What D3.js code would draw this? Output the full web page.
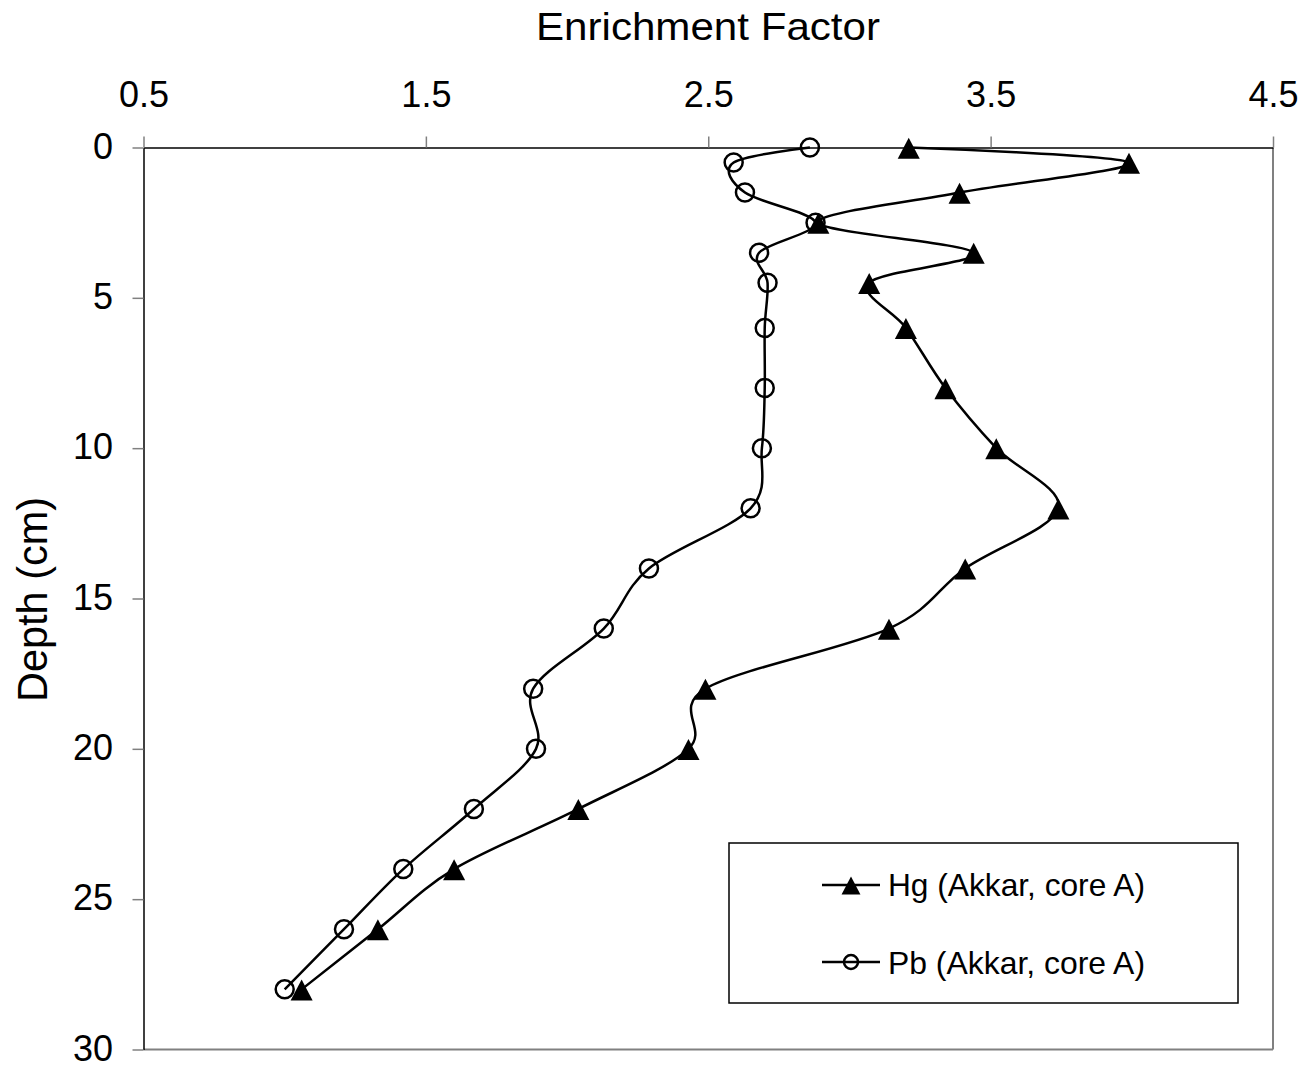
<!DOCTYPE html>
<html>
<head>
<meta charset="utf-8">
<script src="https://cdn.jsdelivr.net/npm/d3@7"></script>
<style>
  html, body { margin: 0; padding: 0; background: #fff; }
  svg { display: block; font-family: "Liberation Sans", Arial, sans-serif; }
</style>
</head>
<body>
<svg id="chart" width="1306" height="1068"></svg>
<script>
// ---- Data ----
const depths = [0, 0.5, 1.5, 2.5, 3.5, 4.5, 6, 8, 10, 12, 14, 16, 18, 20, 22, 24, 26, 28];
const hgValues = [3.21, 3.99, 3.39, 2.89, 3.44, 3.07, 3.20, 3.34, 3.52, 3.74, 3.41, 3.14, 2.49, 2.43, 2.04, 1.60, 1.33, 1.06];
const pbValues = [2.86, 2.59, 2.63, 2.88, 2.68, 2.71, 2.70, 2.70, 2.69, 2.65, 2.29, 2.13, 1.88, 1.89, 1.67, 1.42, 1.21, 1.00];
const xTicks = [0.5, 1.5, 2.5, 3.5, 4.5];
const yTicks = [0, 5, 10, 15, 20, 25, 30];
const seriesNames = ["Hg (Akkar, core A)", "Pb (Akkar, core A)"];
const xTitle = "Enrichment Factor";
const yTitle = "Depth (cm)";

(function () {
// ---- Layout ----
const svg = d3.select("#chart");
const pLeft = 143.5, pRight = 1273, pTop = 147.5, pBottom = 1049.5;

const x = d3.scaleLinear().domain([0.5, 4.5]).range([pLeft, pRight]);
const y = d3.scaleLinear().domain([0, 30]).range([pTop, pBottom]);

// plot border (right & bottom, gray)
svg.append("line").attr("x1", pRight).attr("x2", pRight).attr("y1", pTop).attr("y2", pBottom)
  .attr("stroke", "#808080").attr("stroke-width", 2);
svg.append("line").attr("x1", pLeft).attr("x2", pRight).attr("y1", pBottom).attr("y2", pBottom)
  .attr("stroke", "#808080").attr("stroke-width", 2);

// top axis
const gx = svg.append("g").attr("transform", `translate(0,${pTop})`)
  .call(d3.axisTop(x).tickValues(xTicks).tickFormat(d3.format(".1f")).tickSize(11).tickSizeOuter(0).tickPadding(30));
// left axis
const gy = svg.append("g").attr("transform", `translate(${pLeft},0)`)
  .call(d3.axisLeft(y).tickValues(yTicks).tickFormat(d3.format("d")).tickSize(11).tickSizeOuter(0).tickPadding(19.5));

[gx, gy].forEach(g => {
  g.select(".domain").attr("stroke", "#000").attr("stroke-width", 1.5);
  g.selectAll(".tick line").attr("stroke", "#808080").attr("stroke-width", 1.5);
  g.selectAll(".tick text").attr("font-size", 36).attr("fill", "#000")
    .attr("font-family", '"Liberation Sans", Arial, sans-serif');
});
gy.selectAll(".tick text").attr("dy", "0.3em");

// titles
svg.append("text").attr("x", 708).attr("y", 40).attr("text-anchor", "middle")
  .attr("font-size", 39).attr("textLength", 344).attr("lengthAdjust", "spacingAndGlyphs")
  .text(xTitle);
svg.append("text").attr("transform", "translate(46.5,599.5) rotate(-90)").attr("text-anchor", "middle")
  .attr("font-size", 42).attr("textLength", 205).attr("lengthAdjust", "spacingAndGlyphs")
  .text(yTitle);

// series
const line = d3.line().curve(d3.curveCatmullRom.alpha(0)).x(d => x(d.v)).y(d => y(d.d));
const hgData = depths.map((d, i) => ({ d, v: hgValues[i] }));
const pbData = depths.map((d, i) => ({ d, v: pbValues[i] }));

const triPath = (s) => `M0,${-0.94 * s}L${1.05 * s},${1.06 * s}L${-1.05 * s},${1.06 * s}Z`;

// Pb
svg.append("path").datum(pbData).attr("d", line).attr("fill", "none")
  .attr("stroke", "#000").attr("stroke-width", 2.5);
svg.append("g").selectAll("circle").data(pbData).join("circle")
  .attr("cx", d => x(d.v)).attr("cy", d => y(d.d)).attr("r", 9)
  .attr("fill", "none").attr("stroke", "#000").attr("stroke-width", 2.5);

// Hg
svg.append("path").datum(hgData).attr("d", line).attr("fill", "none")
  .attr("stroke", "#000").attr("stroke-width", 2.5);
svg.append("g").selectAll("path").data(hgData).join("path")
  .attr("transform", d => `translate(${x(d.v)},${y(d.d)})`)
  .attr("d", triPath(10.5)).attr("fill", "#000");

// legend
const lg = svg.append("g");
lg.append("rect").attr("x", 729).attr("y", 843).attr("width", 509).attr("height", 160)
  .attr("fill", "#fff").attr("stroke", "#000").attr("stroke-width", 1.5);
const legendRows = [
  { name: seriesNames[0], ly: 885, ty: 896, type: "tri" },
  { name: seriesNames[1], ly: 962, ty: 974, type: "circ" }
];
legendRows.forEach(r => {
  lg.append("line").attr("x1", 822).attr("x2", 880).attr("y1", r.ly).attr("y2", r.ly)
    .attr("stroke", "#000").attr("stroke-width", 2.5);
  if (r.type === "tri") {
    lg.append("path").attr("transform", `translate(851,${r.ly})`).attr("d", triPath(9)).attr("fill", "#000");
  } else {
    lg.append("circle").attr("cx", 851).attr("cy", r.ly).attr("r", 7)
      .attr("fill", "none").attr("stroke", "#000").attr("stroke-width", 2.5);
  }
  lg.append("text").attr("x", 888).attr("y", r.ty).attr("font-size", 32)
    .attr("textLength", 257).attr("lengthAdjust", "spacingAndGlyphs").text(r.name);
});
})();
</script>
</body>
</html>
